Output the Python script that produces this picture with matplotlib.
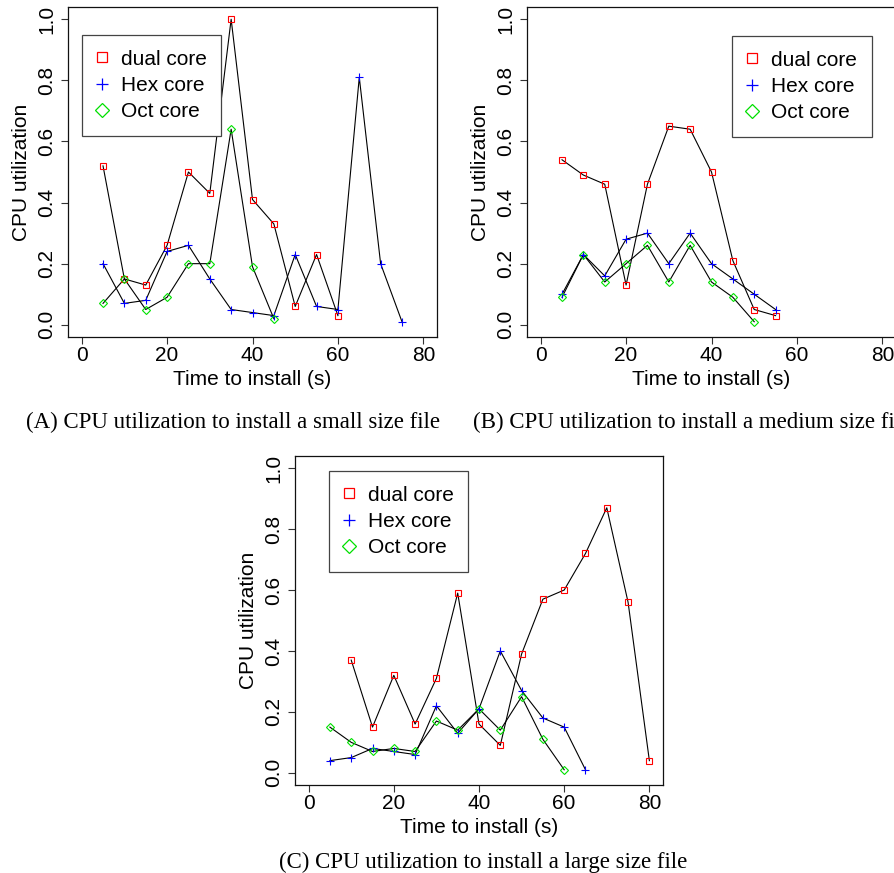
import matplotlib
matplotlib.use("Agg")
import matplotlib.pyplot as plt

# panel A: small file
a_dual_x = [5, 10, 15, 20, 25, 30, 35, 40, 45, 50, 55, 60]
a_dual_y = [0.52, 0.15, 0.13, 0.26, 0.50, 0.43, 1.00, 0.41, 0.33, 0.06, 0.23, 0.03]
a_hex_x = [5, 10, 15, 20, 25, 30, 35, 40, 45, 50, 55, 60, 65, 70, 75]
a_hex_y = [0.20, 0.07, 0.08, 0.24, 0.26, 0.15, 0.05, 0.04, 0.03, 0.23, 0.06, 0.05, 0.81, 0.20, 0.01]
a_oct_x = [5, 10, 15, 20, 25, 30, 35, 40, 45]
a_oct_y = [0.07, 0.15, 0.05, 0.09, 0.20, 0.20, 0.64, 0.19, 0.02]

# panel B: medium file
b_dual_x = [5, 10, 15, 20, 25, 30, 35, 40, 45, 50, 55]
b_dual_y = [0.54, 0.49, 0.46, 0.13, 0.46, 0.65, 0.64, 0.50, 0.21, 0.05, 0.03]
b_hex_x = [5, 10, 15, 20, 25, 30, 35, 40, 45, 50, 55]
b_hex_y = [0.10, 0.23, 0.16, 0.28, 0.30, 0.20, 0.30, 0.20, 0.15, 0.10, 0.05]
b_oct_x = [5, 10, 15, 20, 25, 30, 35, 40, 45, 50]
b_oct_y = [0.09, 0.23, 0.14, 0.20, 0.26, 0.14, 0.26, 0.14, 0.09, 0.01]

# panel C: large file
c_dual_x = [10, 15, 20, 25, 30, 35, 40, 45, 50, 55, 60, 65, 70, 75, 80]
c_dual_y = [0.37, 0.15, 0.32, 0.16, 0.31, 0.59, 0.16, 0.09, 0.39, 0.57, 0.60, 0.72, 0.87, 0.56, 0.04]
c_hex_x = [5, 10, 15, 20, 25, 30, 35, 40, 45, 50, 55, 60, 65]
c_hex_y = [0.04, 0.05, 0.08, 0.07, 0.06, 0.22, 0.13, 0.21, 0.40, 0.27, 0.18, 0.15, 0.01]
c_oct_x = [5, 10, 15, 20, 25, 30, 35, 40, 45, 50, 55, 60]
c_oct_y = [0.15, 0.10, 0.07, 0.08, 0.07, 0.17, 0.14, 0.21, 0.14, 0.25, 0.11, 0.01]

labels = ["dual core", "Hex core", "Oct core"]
captions = ["(A) CPU utilization to install a small size file",
            "(B) CPU utilization to install a medium size file",
            "(C) CPU utilization to install a large size file"]

plt.rcParams["font.family"] = ["Liberation Sans", "DejaVu Sans"]

fig = plt.figure(figsize=(8.94, 8.73), dpi=100)
W, H = 894.0, 873.0


def panel(rect_px, series, leg_pos):
    l, t, r, b = rect_px
    ax = fig.add_axes([l / W, 1 - b / H, (r - l) / W, (b - t) / H])
    # marker, colour, size in plot, size in legend
    styles = [("s", "red", 3.8, 6.8), ("+", "blue", 6, 8), ("D", "#00e000", 4.2, 7.2)]
    handles = []
    for (x, y), (m, c, ms, lms), lab in zip(series, styles, labels):
        ax.plot(x, y, color="black", lw=0.8, zorder=2)
        ax.plot(x, y, ls="none", marker=m, ms=ms, mfc="none", mec=c, mew=0.8, zorder=3)
        h, = ax.plot([], [], ls="none", marker=m, ms=lms, mfc="none", mec=c, mew=0.9,
                     label=lab)
        handles.append(h)
    ax.set_xlim(-3.2, 83.2)
    ax.set_ylim(-0.04, 1.04)
    ax.set_xticks([0, 20, 40, 60, 80])
    ax.set_yticks([0.0, 0.2, 0.4, 0.6, 0.8, 1.0])
    ax.set_yticklabels(["0.0", "0.2", "0.4", "0.6", "0.8", "1.0"], rotation=90, va="center")
    ax.tick_params(direction="out", length=5, width=0.8, labelsize=15, color="#333333")
    ax.tick_params(axis="x", pad=1.5)
    ax.tick_params(axis="y", pad=3.5)
    for s in ax.spines.values():
        s.set_linewidth(0.9)
        s.set_color("#111111")
    ax.set_xlabel("Time to install (s)", fontsize=15)
    ax.set_ylabel("CPU utilization", fontsize=15)
    ax.xaxis.set_label_coords(0.5, -0.1)
    ax.yaxis.set_label_coords(-0.1, 0.5)
    leg = ax.legend(handles=handles, loc="upper left", bbox_to_anchor=leg_pos, fontsize=15,
                    frameon=True, fancybox=False, edgecolor="#444444", framealpha=1,
                    handlelength=0.52, handletextpad=0.65, labelspacing=0.35,
                    borderpad=0.7, borderaxespad=0, numpoints=1)
    leg.get_frame().set_linewidth(0.9)
    return ax


panel((68, 7, 437, 337),
      [(a_dual_x, a_dual_y), (a_hex_x, a_hex_y), (a_oct_x, a_oct_y)], (0.038, 0.915))
panel((527, 7, 896, 337),
      [(b_dual_x, b_dual_y), (b_hex_x, b_hex_y), (b_oct_x, b_oct_y)], (0.556, 0.912))
panel((295, 456, 663, 785),
      [(c_dual_x, c_dual_y), (c_hex_x, c_hex_y), (c_oct_x, c_oct_y)], (0.092, 0.954))

cap_font = dict(family=["Liberation Serif", "DejaVu Serif"], fontsize=16.5, va="center")
fig.text(26 / W, 1 - 422 / H, captions[0], ha="left", **cap_font)
fig.text(473 / W, 1 - 422 / H, captions[1], ha="left", **cap_font)
fig.text(483 / W, 1 - 862 / H, captions[2], ha="center", **cap_font)

fig.savefig("out.png", dpi=100)
